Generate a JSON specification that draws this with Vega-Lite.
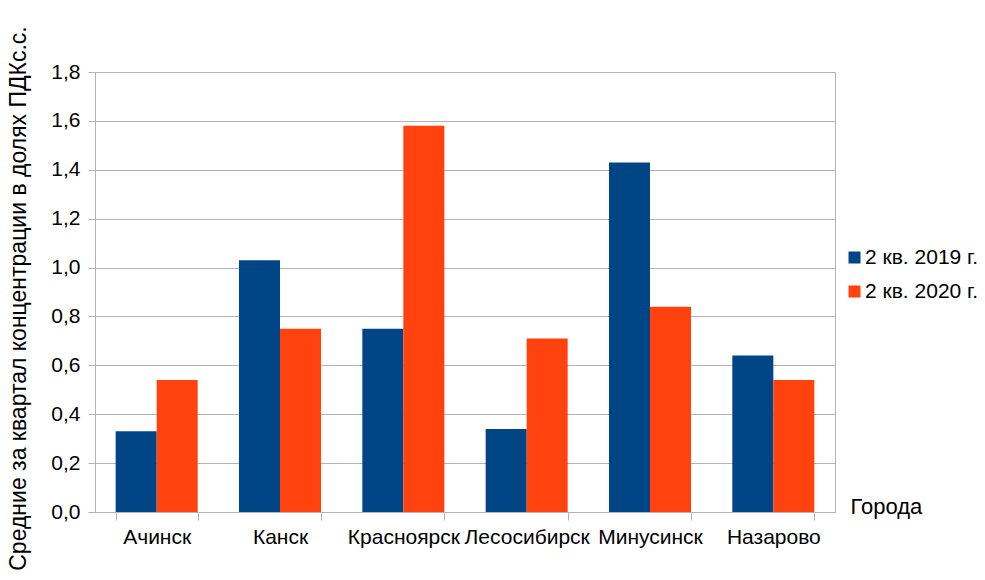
{
  "$schema": "https://vega.github.io/schema/vega-lite/v6.json",
  "width": 740,
  "height": 440,
  "autosize": {"type": "none"},
  "padding": {"left": 95, "top": 72, "right": 150, "bottom": 68},
  "background": "white",
  "data": {
    "values": [
      {"city": "Ачинск", "period": "2 кв. 2019 г.", "value": 0.33},
      {"city": "Ачинск", "period": "2 кв. 2020 г.", "value": 0.54},
      {"city": "Канск", "period": "2 кв. 2019 г.", "value": 1.03},
      {"city": "Канск", "period": "2 кв. 2020 г.", "value": 0.75},
      {"city": "Красноярск", "period": "2 кв. 2019 г.", "value": 0.75},
      {"city": "Красноярск", "period": "2 кв. 2020 г.", "value": 1.58},
      {"city": "Лесосибирск", "period": "2 кв. 2019 г.", "value": 0.34},
      {"city": "Лесосибирск", "period": "2 кв. 2020 г.", "value": 0.71},
      {"city": "Минусинск", "period": "2 кв. 2019 г.", "value": 1.43},
      {"city": "Минусинск", "period": "2 кв. 2020 г.", "value": 0.84},
      {"city": "Назарово", "period": "2 кв. 2019 г.", "value": 0.64},
      {"city": "Назарово", "period": "2 кв. 2020 г.", "value": 0.54}
    ]
  },
  "mark": {"type": "bar"},
  "encoding": {
    "x": {
      "field": "city",
      "type": "nominal",
      "sort": null,
      "scale": {"paddingInner": 0.335, "paddingOuter": 0.1675},
      "axis": {
        "title": "Города",
        "titleX": 755,
        "titleY": 1,
        "titleAlign": "left",
        "titleBaseline": "alphabetic",
        "titleAngle": 0,
        "titleFontWeight": "normal",
        "titleFontSize": 22,
        "labelAngle": 0,
        "labelFontSize": 21,
        "labelPadding": 6,
        "tickBand": "extent",
        "tickSize": 8,
        "grid": false
      }
    },
    "xOffset": {"field": "period", "type": "nominal"},
    "y": {
      "field": "value",
      "type": "quantitative",
      "scale": {"domain": [0, 1.8], "nice": false},
      "axis": {
        "title": "Средние за квартал концентрации в долях ПДКс.с.",
        "values": [0, 0.2, 0.4, 0.6, 0.8, 1.0, 1.2, 1.4, 1.6, 1.8],
        "format": ".1f",
        "titleX": -77,
        "titleY": 226,
        "titleAlign": "center",
        "titleBaseline": "middle",
        "titleFontWeight": "normal",
        "titleFontSize": 23,
        "labelFontSize": 21,
        "labelPadding": 8,
        "tickSize": 7,
        "grid": true
      }
    },
    "color": {
      "field": "period",
      "type": "nominal",
      "scale": {"range": ["#004586", "#ff420e"]},
      "legend": {
        "title": null,
        "orient": "none",
        "legendX": 749,
        "legendY": 175,
        "symbolType": "square",
        "symbolSize": 144,
        "symbolStrokeWidth": 0,
        "labelFontSize": 21,
        "labelOffset": 0,
        "rowPadding": 12
      }
    }
  },
  "config": {
    "font": "Liberation Sans",
    "locale": {
      "number": {"decimal": ",", "thousands": " ", "grouping": [3], "currency": ["", " ₽"]}
    },
    "view": {"stroke": "#b3b3b3", "strokeWidth": 1},
    "axis": {
      "domainColor": "#b3b3b3",
      "tickColor": "#b3b3b3",
      "gridColor": "#b3b3b3",
      "labelColor": "#000000",
      "titleColor": "#000000",
      "labelFont": "Liberation Sans",
      "titleFont": "Liberation Sans"
    },
    "legend": {"labelColor": "#000000", "labelFont": "Liberation Sans"}
  }
}
